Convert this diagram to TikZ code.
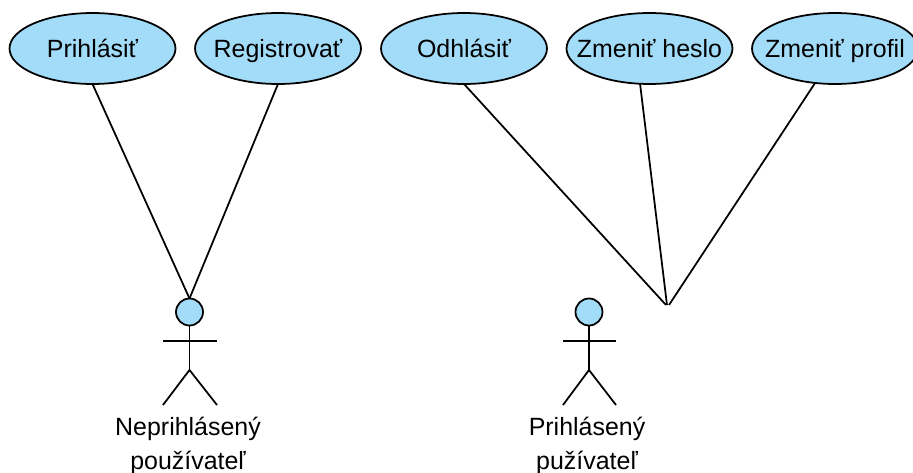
\documentclass[tikz,border=0pt]{standalone}
\usepackage{fontspec}
\setmainfont{Liberation Sans}
\usetikzlibrary{shapes.geometric}
\definecolor{usecaseblue}{HTML}{A3DCF8}
\tikzset{
	usecase/.style={draw,ellipse,fill=usecaseblue,line width=1pt,minimum width=3.32cm,minimum height=1.42cm,inner sep=-0.5cm,outer sep=0pt,text height=0.38cm,text depth=0cm},
	actorhead/.style={draw,circle,fill=usecaseblue,line width=1pt,minimum size=0.54cm,inner sep=0pt,outer sep=0pt},
	actorname/.style={align=center,font=\fontsize{14.2}{19.2}\selectfont},
	stick/.style={line width=1pt}
}
\begin{document}
\begin{tikzpicture}[x=0.02cm,y=-0.02cm,font=\fontsize{14.2}{17}\selectfont]
	\useasboundingbox (0,0) rectangle (913,473);
	\node[usecase] (prihlasit) at (92.5,48.5) {Prihlásiť};
	\node[usecase] (registrovat) at (278,48.5) {Registrovať};
	\node[usecase] (odhlasit) at (464,48.5) {Odhlásiť};
	\node[usecase] (heslo) at (649.5,48.5) {Zmeniť heslo};
	\node[usecase] (profil) at (835,48.5) {Zmeniť profil};
	% left actor
	\node[actorhead] (head1) at (189.5,312) {};
	\coordinate (hip1) at (189.5,370);
	\coordinate (armL1) at (163,341);
	\coordinate (armR1) at (217,341);
	\coordinate (footL1) at (163,405);
	\coordinate (footR1) at (217,405);
	\draw[stick] (head1) -- (hip1);
	\draw[stick] (armL1) -- (armR1);
	\draw[stick] (footL1) -- (hip1) -- (footR1);
	\node[actorname] (name1) at (188,446) {Neprihlásený\\používateľ};
	% right actor
	\node[actorhead] (head2) at (589,312) {};
	\coordinate (hip2) at (589,370);
	\coordinate (armL2) at (563,341);
	\coordinate (armR2) at (616,341);
	\coordinate (footL2) at (563,405);
	\coordinate (footR2) at (616,405);
	\draw[stick] (head2) -- (hip2);
	\draw[stick] (armL2) -- (armR2);
	\draw[stick] (footL2) -- (hip2) -- (footR2);
	\node[actorname] (name2) at (587,446) {Prihlásený\\pužívateľ};
	% connectors
	\coordinate (meet1) at (666,305);
	\coordinate (meet2) at (667,305);
	\coordinate (meet3) at (669,305);
	\draw[stick] (prihlasit.south) -- (head1.north);
	\draw[stick] (registrovat.south) -- (head1.north);
	\draw[stick] (odhlasit.south) -- (meet1);
	\draw[stick] (heslo.255) -- (meet2);
	\draw[stick] (profil.240) -- (meet3);
\end{tikzpicture}
\end{document}
